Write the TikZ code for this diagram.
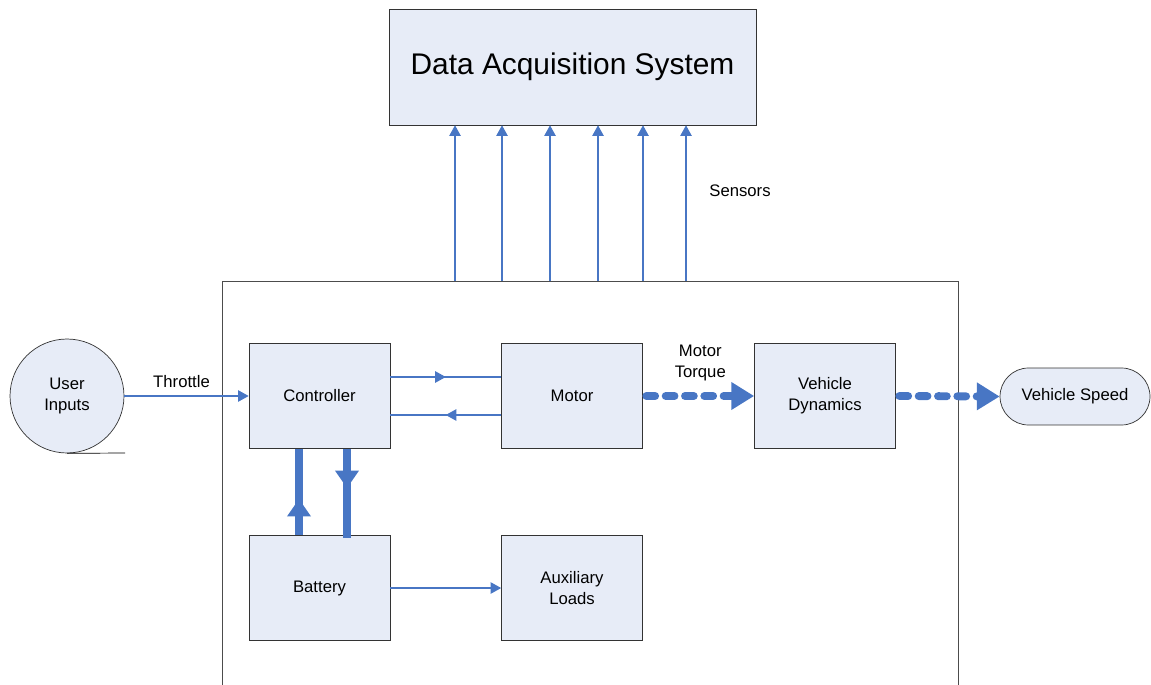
\documentclass[tikz,border=0pt]{standalone}
\usepackage{fontspec}
\setmainfont{Liberation Sans}
\usetikzlibrary{arrows.meta,decorations.markings}
\definecolor{boxfill}{RGB}{231,236,247}
\definecolor{linkblue}{RGB}{72,118,196}
\begin{document}
\begin{tikzpicture}[x=0.02cm,y=-0.02cm,
	block/.style={rectangle, draw=black!80, fill=boxfill, minimum width=2.82cm, minimum height=2.1cm, align=center, font=\fontsize{9.5}{12}\selectfont},
	sig/.style={draw=linkblue, line width=0.6pt, -{Triangle[length=6pt,width=6.5pt]}},
	sigmid/.style={draw=linkblue, line width=0.6pt, postaction={decorate}, decoration={markings, mark=at position 0.5 with {\arrow{Triangle[length=6pt,width=6.5pt]}}}},
	power/.style={draw=linkblue, line width=4.5pt, postaction={decorate}, decoration={markings, mark=at position #1 with {\arrow[linkblue]{Triangle[length=10pt,width=13pt]}}}},
	flow/.style={draw=linkblue, line width=4.5pt, dash pattern=on 5pt off 6pt, line cap=round, -{Triangle[length=13pt,width=15pt]}},
	txt/.style={font=\fontsize{9.5}{12}\selectfont, align=center}]
	\useasboundingbox (0,0) rectangle (1151,685);

	%Nodes
	\node[block, minimum width=7.34cm, minimum height=2.32cm, font=\fontsize{17}{21}\selectfont] (daq) at (572.5,67) {Data Acquisition System};
	\node[rectangle, draw=black!70, minimum width=14.72cm, minimum height=9cm, anchor=north west] (plant) at (222,281) {};
	\node[block] (ctrl) at (319.5,396) {Controller};
	\node[block] (mot) at (572,396) {Motor};
	\node[block] (vd) at (825,396) {Vehicle\\Dynamics};
	\node[block] (bat) at (319.5,588) {Battery};
	\node[block] (aux) at (572,588) {Auxiliary\\Loads};
	\node[circle, draw=black!80, fill=boxfill, minimum size=2.28cm, txt] (ui) at (67,396) {User\\Inputs};
	\node[rectangle, rounded corners=0.57cm, draw=black!80, fill=boxfill, minimum width=3cm, minimum height=1.14cm, txt] (vs) at (1075,396.5) {Vehicle Speed};
	\coordinate (uitail) at (125,453);

	%Lines
	\draw[black] (ui.south) -- (uitail);
	\draw[sig] (ui.east) -- (ctrl.west) node[txt, pos=0.46, above=1pt] {Throttle};
	\draw[sigmid] (ctrl.east |- 0,377) -- (mot.west |- 0,377);
	\draw[sigmid] (mot.west |- 0,415) -- (ctrl.east |- 0,415);
	\draw[power=0.42] (bat.north -| 299,0) -- (ctrl.south -| 299,0);
	\draw[power=0.44] (ctrl.south -| 347,0) -- ([yshift=-0.06cm]bat.north -| 347,0);
	\draw[sig] (bat.east) -- (aux.west);
	\draw[flow] ([xshift=2pt]mot.east) -- (vd.west) node[txt, midway, above=3pt] {Motor\\Torque};
	\draw[flow] ([xshift=2pt]vd.east) -- (vs.west);
	\foreach \x in {455,502,550,598,643,686}
		\draw[sig] (plant.north -| \x,0) -- (daq.south -| \x,0);
	\node[txt] (sens) at (740,191) {Sensors};
\end{tikzpicture}
\end{document}
